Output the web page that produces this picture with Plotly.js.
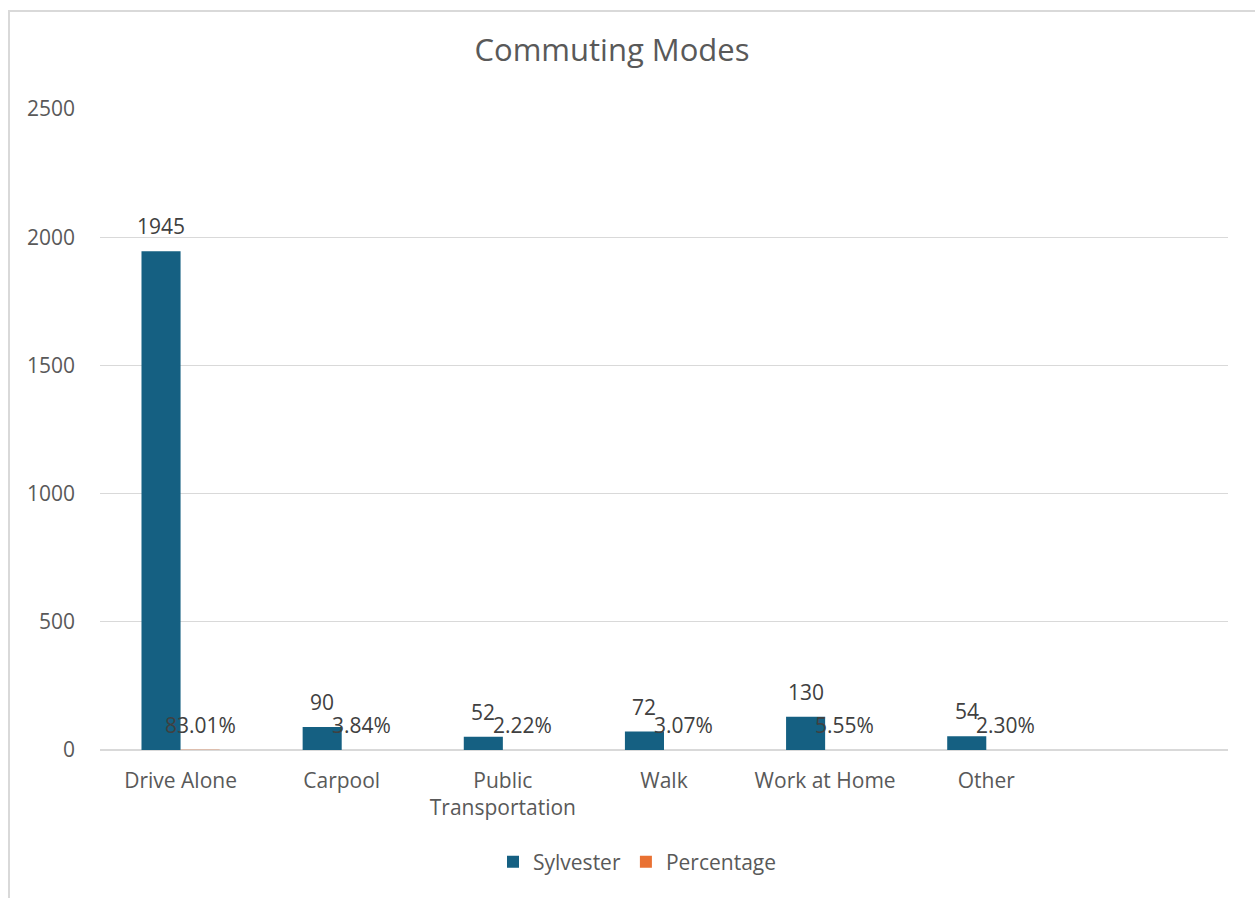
<!DOCTYPE html>
<html>
<head>
<meta charset="utf-8">
<script src="https://cdn.plot.ly/plotly-3.0.1.min.js"></script>
<style>
  html, body { margin: 0; padding: 0; background: #ffffff; }
  #wrap { position: relative; width: 1255px; height: 898px; overflow: hidden; }
  #chart { position: absolute; left: 0; top: 0; width: 1255px; height: 898px; }
  #frame { position: absolute; left: 8px; top: 10px; width: 1300px; height: 1000px;
           border-top: 2px solid #d9d9d9; border-left: 2px solid #d9d9d9; pointer-events: none; }
</style>
</head>
<body>
<div id="wrap">
  <div id="chart"></div>
  <div id="frame"></div>
</div>
<script>
// ---- data ----
const categories = ['Drive Alone', 'Carpool', 'Public<br>Transportation', 'Walk', 'Work at Home', 'Other'];
const sylvester = [1945, 90, 52, 72, 130, 54];
const percentage = [0.8301, 0.0384, 0.0222, 0.0307, 0.0555, 0.0230];
const sylvesterLabels = ['1945', '90', '52', '72', '130', '54'];
const percentageLabels = ['83.01%', '3.84%', '2.22%', '3.07%', '5.55%', '2.30%'];
const yTicks = [0, 500, 1000, 1500, 2000, 2500];

// ---- style ----
const FONT = '"Open Sans", "Liberation Sans", sans-serif';
const W = 1255, H = 898;
const M = { l: 100, r: 27, t: 109, b: 148 };
const BARGAP = 0.515;
const nSlots = 7;
const plotW = W - M.l - M.r;
const slotW = plotW / nSlots;
const barW = slotW * (1 - BARGAP) / 2;
const LABEL_LIFT = 25;

const traces = [
  { type: 'bar', name: 'Sylvester', x: categories, y: sylvester,
    marker: { color: '#156082' }, hoverinfo: 'x+y' },
  { type: 'bar', name: 'Percentage', x: categories, y: percentage,
    marker: { color: '#E97132' }, hoverinfo: 'x+y' }
];

const annotations = [];
categories.forEach((c, i) => {
  annotations.push({ x: c, y: sylvester[i], xref: 'x', yref: 'y', text: sylvesterLabels[i],
    showarrow: false, xshift: -barW / 2, yshift: LABEL_LIFT, yanchor: 'middle', xanchor: 'center',
    font: { family: FONT, size: 21, color: '#404040' } });
  annotations.push({ x: c, y: percentage[i], xref: 'x', yref: 'y', text: percentageLabels[i],
    showarrow: false, xshift: barW / 2, yshift: LABEL_LIFT, yanchor: 'middle', xanchor: 'center',
    font: { family: FONT, size: 21, color: '#404040' } });
});

const layout = {
  width: W, height: H,
  margin: M,
  paper_bgcolor: '#ffffff', plot_bgcolor: '#ffffff',
  font: { family: FONT, size: 21, color: '#595959' },
  title: { text: 'Commuting Modes', x: 612 / W, xref: 'container', xanchor: 'center',
           y: 1 - 50 / H, yref: 'container', yanchor: 'middle',
           font: { family: FONT, size: 31, color: '#595959' } },
  barmode: 'group', bargap: BARGAP, bargroupgap: 0,
  xaxis: { type: 'category', range: [-0.5, 6.5], showgrid: false, showline: false,
           ticks: '', ticklabelstandoff: 16, tickfont: { family: FONT, size: 21, color: '#595959' },
           fixedrange: true },
  yaxis: { range: [0, 2500], tickvals: yTicks, ticktext: yTicks.map(String),
           showgrid: true, gridcolor: '#d9d9d9', gridwidth: 1.3,
           zeroline: true, zerolinecolor: '#d9d9d9', zerolinewidth: 2,
           showline: false, ticks: '', ticklabelstandoff: 24,
           tickfont: { family: FONT, size: 21, color: '#595959' }, fixedrange: true },
  showlegend: true,
  legend: { orientation: 'h', x: 637 / W, xref: 'container', xanchor: 'center',
            y: 1 - 862 / H, yref: 'container', yanchor: 'middle',
            font: { family: FONT, size: 21, color: '#595959' }, itemwidth: 30, traceorder: 'normal' },
  annotations: annotations
};

Plotly.newPlot('chart', traces, layout, { displayModeBar: false, staticPlot: true });
</script>
</body>
</html>
